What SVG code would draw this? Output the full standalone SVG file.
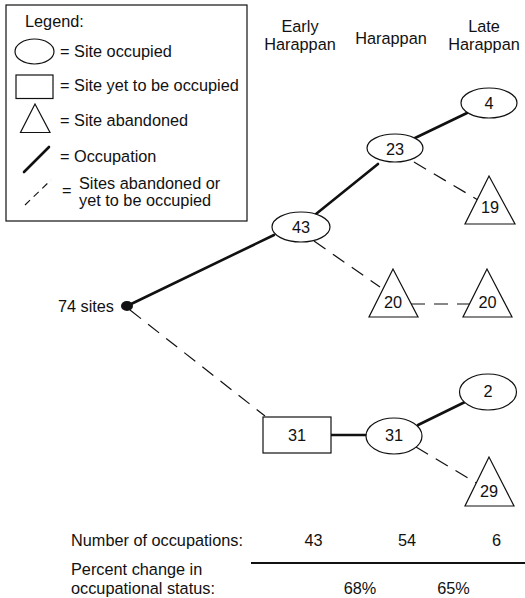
<svg xmlns="http://www.w3.org/2000/svg" width="525" height="598" viewBox="0 0 525 598">
  <style>
    text { font-family: "Liberation Sans", Arial, Helvetica, sans-serif; font-size: 16.3px; fill: #111; }
    .c { text-anchor: middle; }
    .e { text-anchor: end; }
    .shape { fill: #fff; stroke: #111; stroke-width: 1.2; }
    .solid { stroke: #111; stroke-width: 2.6; fill: none; stroke-linecap: round; }
    .dash { stroke: #111; stroke-width: 1.2; fill: none; stroke-dasharray: 14 9; }
  </style>
  <rect width="525" height="598" fill="#fff"/>

  <!-- legend -->
  <g id="legend">
    <rect x="6" y="5" width="241" height="216" fill="#fff" stroke="#111" stroke-width="1.2"/>
    <text x="25" y="27">Legend:</text>
    <ellipse class="shape" cx="34.5" cy="51.5" rx="19.5" ry="12.5"/>
    <text x="60" y="57">= Site occupied</text>
    <rect class="shape" x="16" y="75" width="37" height="23.5"/>
    <text x="60" y="91">= Site yet to be occupied</text>
    <polygon class="shape" points="35,104 20.5,132.5 50,132.5"/>
    <text x="60" y="126">= Site abandoned</text>
    <line class="solid" x1="24" y1="172" x2="49" y2="147"/>
    <text x="60" y="162">= Occupation</text>
    <line x1="25" y1="205" x2="51" y2="180" stroke="#111" stroke-width="1.1" stroke-dasharray="7 5"/>
    <text x="62" y="196">=</text>
    <text x="79" y="189">Sites abandoned or</text>
    <text x="79" y="206">yet to be occupied</text>
  </g>

  <!-- period headings -->
  <g id="headings">
    <text class="c" x="300" y="32">Early</text>
    <text class="c" x="300" y="50">Harappan</text>
    <text class="c" x="391" y="44">Harappan</text>
    <text class="c" x="484" y="32">Late</text>
    <text class="c" x="484" y="50">Harappan</text>
  </g>

  <!-- connectors -->
  <g id="connectors">
    <line class="solid" x1="127" y1="306" x2="274" y2="235"/>
    <line class="solid" x1="316" y1="214" x2="378" y2="164"/>
    <line class="solid" x1="415" y1="138" x2="467" y2="113"/>
    <line class="dash" x1="414" y1="162" x2="478" y2="200"/>
    <line class="dash" x1="314" y1="241" x2="380" y2="287"/>
    <line class="dash" x1="411" y1="304" x2="470" y2="304"/>
    <line class="dash" x1="130" y1="310" x2="265" y2="416"/>
    <line class="solid" x1="331" y1="435" x2="366" y2="435"/>
    <line class="solid" x1="418" y1="425" x2="465" y2="402"/>
    <line class="dash" x1="416" y1="447" x2="478" y2="484"/>
  </g>

  <!-- nodes -->
  <g id="start">
    <ellipse cx="127" cy="306" rx="6" ry="5" fill="#111"/>
    <text class="e" x="114" y="312">74 sites</text>
  </g>
  <g id="n43">
    <ellipse class="shape" cx="301" cy="227" rx="29" ry="15"/>
    <text class="c" x="301" y="233">43</text>
  </g>
  <g id="n23">
    <ellipse class="shape" cx="395" cy="148" rx="28" ry="14"/>
    <text class="c" x="395" y="155">23</text>
  </g>
  <g id="n4">
    <ellipse class="shape" cx="489" cy="103" rx="28" ry="15"/>
    <text class="c" x="489" y="109">4</text>
  </g>
  <g id="n19">
    <polygon class="shape" points="489,176 465,224 515,224"/>
    <text class="c" x="490" y="213">19</text>
  </g>
  <g id="n20a">
    <polygon class="shape" points="393,269 369,317 418,317"/>
    <text class="c" x="393" y="308">20</text>
  </g>
  <g id="n20b">
    <polygon class="shape" points="487,269 463,317 512,317"/>
    <text class="c" x="487.5" y="308">20</text>
  </g>
  <g id="n31rect">
    <rect class="shape" x="263" y="417" width="68" height="36"/>
    <text class="c" x="297" y="441">31</text>
  </g>
  <g id="n31">
    <ellipse class="shape" cx="394" cy="436" rx="28" ry="18"/>
    <text class="c" x="394" y="441">31</text>
  </g>
  <g id="n2">
    <ellipse class="shape" cx="488" cy="392" rx="28.5" ry="18"/>
    <text class="c" x="488" y="397">2</text>
  </g>
  <g id="n29">
    <polygon class="shape" points="489,457 465,506 514,506"/>
    <text class="c" x="489" y="497">29</text>
  </g>

  <!-- summary table -->
  <g id="summary">
    <text x="71" y="546">Number of occupations:</text>
    <text class="c" x="313.5" y="546">43</text>
    <text class="c" x="407" y="546">54</text>
    <text class="c" x="496.5" y="546">6</text>
    <line x1="251" y1="563" x2="525" y2="563" stroke="#111" stroke-width="2.2"/>
    <text x="71" y="575">Percent change in</text>
    <text x="71" y="594">occupational status:</text>
    <text class="c" x="360" y="594">68%</text>
    <text class="c" x="453.5" y="594">65%</text>
  </g>
</svg>
